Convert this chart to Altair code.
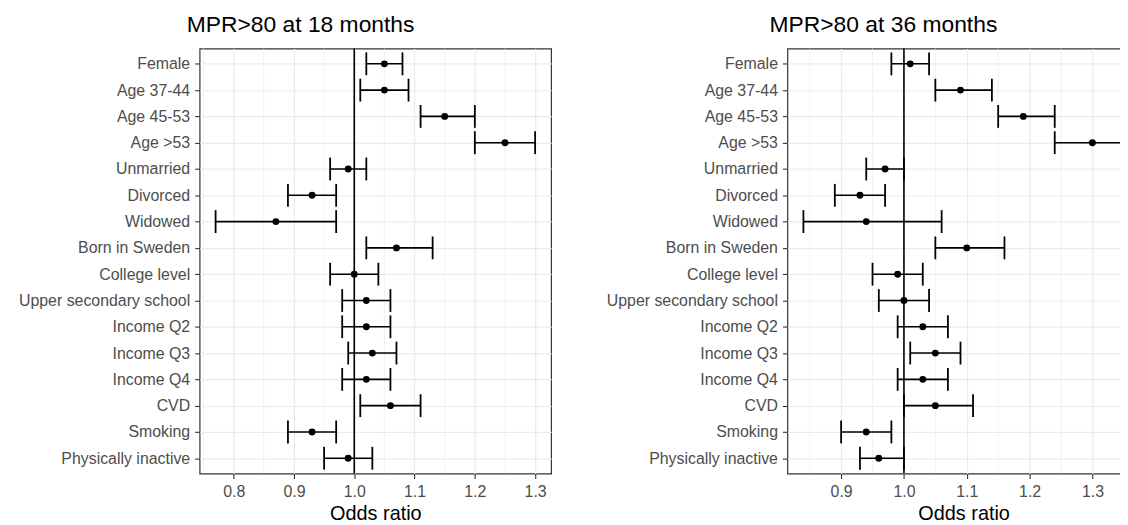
import altair as alt
import pandas as pd

categories = ["Female", "Age 37-44", "Age 45-53", "Age >53", "Unmarried", "Divorced",
              "Widowed", "Born in Sweden", "College level", "Upper secondary school",
              "Income Q2", "Income Q3", "Income Q4", "CVD", "Smoking", "Physically inactive"]

or18 = [1.05, 1.05, 1.15, 1.25, 0.99, 0.93, 0.87, 1.07, 1.00, 1.02, 1.02, 1.03, 1.02, 1.06, 0.93, 0.99]
lo18 = [1.02, 1.01, 1.11, 1.20, 0.96, 0.89, 0.77, 1.02, 0.96, 0.98, 0.98, 0.99, 0.98, 1.01, 0.89, 0.95]
hi18 = [1.08, 1.09, 1.20, 1.30, 1.02, 0.97, 0.97, 1.13, 1.04, 1.06, 1.06, 1.07, 1.06, 1.11, 0.97, 1.03]

or36 = [1.01, 1.09, 1.19, 1.30, 0.97, 0.93, 0.94, 1.10, 0.99, 1.00, 1.03, 1.05, 1.03, 1.05, 0.94, 0.96]
lo36 = [0.98, 1.05, 1.15, 1.24, 0.94, 0.89, 0.84, 1.05, 0.95, 0.96, 0.99, 1.01, 0.99, 1.00, 0.90, 0.93]
hi36 = [1.04, 1.14, 1.24, 1.35, 1.00, 0.97, 1.06, 1.16, 1.03, 1.04, 1.07, 1.09, 1.07, 1.11, 0.98, 1.00]

titles = ["MPR>80 at 18 months", "MPR>80 at 36 months"]
major18 = [0.8, 0.9, 1.0, 1.1, 1.2, 1.3]
minor18 = [0.75, 0.85, 0.95, 1.05, 1.15, 1.25]
major36 = [0.9, 1.0, 1.1, 1.2, 1.3]
minor36 = [0.85, 0.95, 1.05, 1.15, 1.25, 1.35]
domain18 = [0.7435, 1.3265]
domain36 = [0.8145, 1.3755]
reference = 1.0

FONT = "Liberation Sans"


def panel(ors, los, his, title, domain, major, minor, dx, width):
    df = pd.DataFrame({"term": categories, "or": ors, "lo": los, "hi": his})
    xs = alt.Scale(domain=domain, nice=False, zero=False)
    ys = alt.Scale(type="point", domain=categories, padding=0.58)
    xaxis = alt.Axis(
        title="Odds ratio", values=major, format=".1f",
        grid=True, gridColor="#ebebeb", gridWidth=1.2,
        domain=False, tickSize=5, tickColor="#333333", tickWidth=1.1,
        labelFontSize=16, labelColor="#4d4d4d", labelPadding=5,
        titleFontSize=20, titleColor="black", titleFontWeight="normal", titlePadding=4,
    )
    yaxis = alt.Axis(
        title=None, grid=True, gridColor="#ebebeb", gridWidth=1.2,
        domain=False, tickSize=5, tickColor="#333333", tickWidth=1.1,
        labelFontSize=16, labelColor="#4d4d4d", labelPadding=5, labelLimit=400,
    )
    base = alt.Chart(df)
    minor_grid = alt.Chart(pd.DataFrame({"v": minor})).mark_rule(
        color="#ebebeb", strokeWidth=0.7).encode(x=alt.X("v:Q", scale=xs, axis=xaxis))
    ci = base.mark_rule(color="black", strokeWidth=1.6).encode(
        x=alt.X("lo:Q", scale=xs),
        x2="hi:Q",
        y=alt.Y("term:N", scale=ys, sort=categories, axis=yaxis),
    )
    cap_lo = base.mark_tick(color="black", size=23, thickness=1.8, opacity=1).encode(
        x=alt.X("lo:Q", scale=xs), y=alt.Y("term:N", scale=ys, sort=categories))
    cap_hi = base.mark_tick(color="black", size=23, thickness=1.8, opacity=1).encode(
        x=alt.X("hi:Q", scale=xs), y=alt.Y("term:N", scale=ys, sort=categories))
    ref = alt.Chart(pd.DataFrame({"ref": [reference]})).mark_rule(
        color="black", strokeWidth=1.6).encode(x=alt.X("ref:Q", scale=xs))
    pts = base.mark_circle(color="black", size=48, opacity=1).encode(
        x=alt.X("or:Q", scale=xs), y=alt.Y("term:N", scale=ys, sort=categories))
    return alt.layer(minor_grid, ci, cap_lo, cap_hi, ref, pts).properties(
        width=width, height=428,
        title=alt.TitleParams(text=title, anchor="start", frame="group", dx=dx,
                              fontSize=23, font=FONT, fontWeight="normal",
                              color="black", baseline="top", offset=11),
    )


left = panel(or18, lo18, hi18, titles[0], domain18, major18, minor18, -13, 354)
right = panel(or36, lo36, hi36, titles[1], domain36, major36, minor36, -18, 355)

chart = alt.hconcat(left, right, spacing=53).properties(
    padding={"left": 9, "top": 3, "right": -21, "bottom": -1}
).configure_view(
    stroke="#333333", strokeWidth=1.2
).configure_axis(
    labelFont=FONT, titleFont=FONT
).configure_title(font=FONT)

chart.save("out.html", embed_options={"renderer": "svg", "actions": False})
